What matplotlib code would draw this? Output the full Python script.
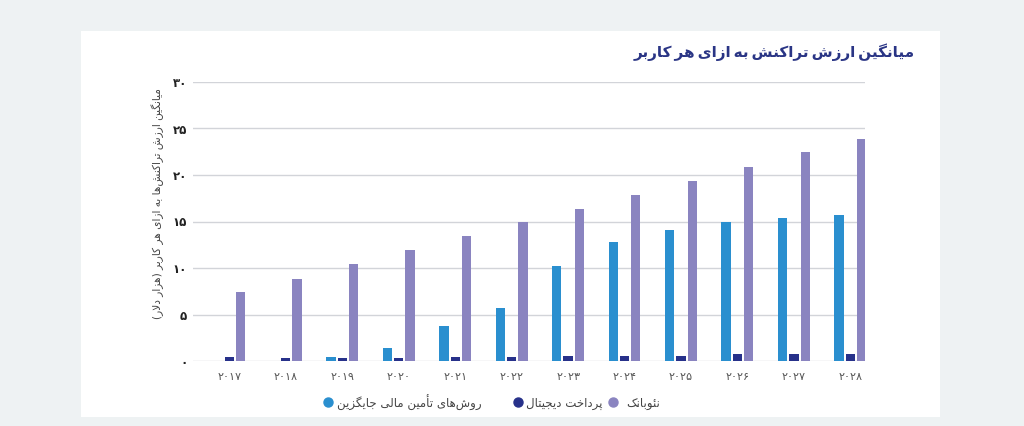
import numpy as np
import matplotlib.pyplot as plt
from matplotlib.patches import Rectangle
from matplotlib.lines import Line2D

# داده‌ها
years = ['۲۰۱۷', '۲۰۱۸', '۲۰۱۹', '۲۰۲۰', '۲۰۲۱', '۲۰۲۲',
         '۲۰۲۳', '۲۰۲۴', '۲۰۲۵', '۲۰۲۶', '۲۰۲۷', '۲۰۲۸']
alt_finance = [0.0, 0.0, 0.47, 1.41, 3.8, 5.7, 10.2, 12.75, 14.1, 14.9, 15.35, 15.7]
digital_pay = [0.4, 0.3, 0.3, 0.3, 0.4, 0.47, 0.5, 0.58, 0.58, 0.72, 0.72, 0.8]
neobank = [7.43, 8.85, 10.4, 11.98, 13.4, 14.97, 16.3, 17.9, 19.37, 20.85, 22.45, 23.92]
yticks = [0, 5, 10, 15, 20, 25, 30]
ytick_labels = ['۰', '۵', '۱۰', '۱۵', '۲۰', '۲۵', '۳۰']

title = 'میانگین ارزش تراکنش به ازای هر کاربر'
ylabel = 'میانگین ارزش تراکنش‌ها به ازای هر کاربر (هزار دلار)'
series_names = ['روش‌های تأمین مالی جایگزین', 'پرداخت دیجیتال', 'نئوبانک']
colors = ['#2a8fcf', '#27318a', '#8a84c0']

# شکل‌دهی حروف عربی/فارسی (ایزوله، پایانی، آغازی، میانی)
FORMS = {
    'ا': ('\uFE8D', '\uFE8E', None, None),
    'أ': ('\uFE83', '\uFE84', None, None),
    'د': ('\uFEA9', '\uFEAA', None, None),
    'ر': ('\uFEAD', '\uFEAE', None, None),
    'ز': ('\uFEAF', '\uFEB0', None, None),
    'و': ('\uFEED', '\uFEEE', None, None),
    'ب': ('\uFE8F', '\uFE90', '\uFE91', '\uFE92'),
    'پ': ('\uFB56', '\uFB57', '\uFB58', '\uFB59'),
    'ت': ('\uFE95', '\uFE96', '\uFE97', '\uFE98'),
    'ج': ('\uFE9D', '\uFE9E', '\uFE9F', '\uFEA0'),
    'خ': ('\uFEA5', '\uFEA6', '\uFEA7', '\uFEA8'),
    'ش': ('\uFEB5', '\uFEB6', '\uFEB7', '\uFEB8'),
    'ک': ('\uFB8E', '\uFB8F', '\uFB90', '\uFB91'),
    'گ': ('\uFB92', '\uFB93', '\uFB94', '\uFB95'),
    'ل': ('\uFEDD', '\uFEDE', '\uFEDF', '\uFEE0'),
    'م': ('\uFEE1', '\uFEE2', '\uFEE3', '\uFEE4'),
    'ن': ('\uFEE5', '\uFEE6', '\uFEE7', '\uFEE8'),
    'ه': ('\uFEE9', '\uFEEA', '\uFEEB', '\uFEEC'),
    'ی': ('\uFBFC', '\uFBFD', '\uFBFE', '\uFBFF'),
    'ئ': ('\uFE89', '\uFE8A', '\uFE8B', '\uFE8C'),
}


def rtl(s, space=' '):
    out = []
    i = 0
    n = len(s)
    while i < n:
        c = s[i]
        if c not in FORMS:
            if c == ' ':
                out.append(space)
            elif c != '\u200c':
                out.append(c)
            i += 1
            continue
        prev = s[i - 1] if i > 0 else None
        nxt = s[i + 1] if i + 1 < n else None
        join_prev = prev in FORMS and FORMS[prev][2] is not None
        # لام الف
        if c == 'ل' and nxt == 'ا':
            out.append('\uFEFC' if join_prev else '\uFEFB')
            i += 2
            continue
        join_next = FORMS[c][2] is not None and nxt in FORMS
        iso, fin, ini, med = FORMS[c]
        if join_prev and join_next:
            out.append(med)
        elif join_prev:
            out.append(fin)
        elif join_next:
            out.append(ini)
        else:
            out.append(iso)
        i += 1
    txt = ''.join(reversed(out))
    return txt.translate(str.maketrans('()', ')('))


plt.rcParams['font.family'] = ['DejaVu Sans']

fig = plt.figure(figsize=(10.24, 4.26), dpi=100)
fig.patch.set_facecolor('#eef2f3')
fig.patches.append(Rectangle((81 / 1024, 9 / 426), 859 / 1024, 386 / 426,
                             transform=fig.transFigure, facecolor='white',
                             edgecolor='none', zorder=-1))

ax = fig.add_axes([192.7 / 1024, 65 / 426, 672.3 / 1024, 279 / 426])
ax.set_facecolor('none')

x = np.arange(len(years))
w = 0.165
step = 0.2
ax.bar(x - step, alt_finance, w, color=colors[0], zorder=3)
ax.bar(x, digital_pay, w, color=colors[1], zorder=3)
ax.bar(x + step, neobank, w, color=colors[2], zorder=3)

ax.set_xlim(-0.65, 11.26)
ax.set_ylim(0, 30)
ax.set_yticks(yticks)
ax.set_yticklabels(ytick_labels, fontsize=8.5, fontweight='bold', color='#222222')
ax.set_xticks(x)
ax.set_xticklabels(years, fontsize=8, color='#555555')
ax.tick_params(axis='both', length=0)
ax.tick_params(axis='y', pad=4)
ax.tick_params(axis='x', pad=8)
ax.grid(axis='y', color='#d2d4d9', linewidth=1, zorder=1)
for sp in ax.spines.values():
    sp.set_visible(False)

fig.text(915 / 1024, 1 - 52 / 426, rtl(title, '\u2009'), ha='right', va='center',
         fontsize=11, fontweight='bold', color='#2a3585')
fig.text(158 / 1024, 1 - 204 / 426, rtl(ylabel), ha='center', va='center',
         rotation=90, fontsize=7.6, color='#444444')

# راهنما
legend_items = [(328, 482), (518, 603), (613, 660)]
for (dot_x, text_r), name, col in zip(legend_items, series_names, colors):
    fig.add_artist(Line2D([dot_x / 1024], [1 - 402 / 426], marker='o',
                          markersize=6.5, color=col, linestyle='none',
                          transform=fig.transFigure))
    fig.text(text_r / 1024, 1 - 403 / 426, rtl(name), ha='right', va='center',
             fontsize=8.5, color='#444444')

fig.savefig('out.png', dpi=100, facecolor=fig.get_facecolor())
